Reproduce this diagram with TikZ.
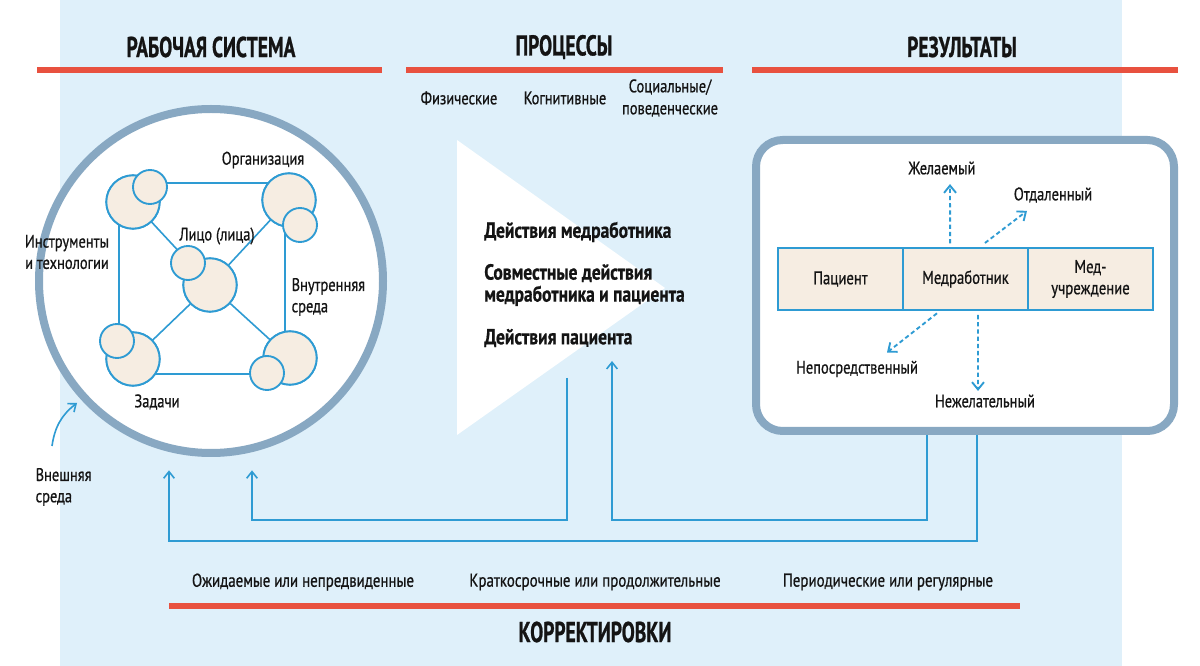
\documentclass[tikz,border=0pt]{standalone}
\usepackage{fontspec}
\setmainfont{PT Sans}[FakeStretch=0.8, FakeBold=0.7]
\newfontfamily\headfont{PT Sans}[FakeStretch=0.68, FakeBold=0.8]
\usetikzlibrary{arrows.meta, positioning, calc}
\definecolor{bgblue}{HTML}{DFF0FA}
\definecolor{ringgray}{HTML}{88A8C2}
\definecolor{lineblue}{HTML}{2E9BD3}
\definecolor{beige}{HTML}{F6EDE2}
\definecolor{redbar}{HTML}{E8513F}
\definecolor{ink}{HTML}{141414}

\begin{document}
\begin{tikzpicture}[x=0.75pt, y=-0.75pt, >={Straight Barb[length=5pt, width=8pt]},
  head/.style={font=\headfont\fontsize{21.5}{21.5}\selectfont\bfseries, text=ink},
  lbl/.style={font=\fontsize{13.6}{16}\selectfont, text=ink, align=center, inner sep=1pt},
  act/.style={font=\fontsize{16.4}{16.5}\selectfont\bfseries, text=ink, align=left, anchor=west, inner sep=0pt},
  bar/.style={draw=redbar, line width=4.5pt},
  link/.style={draw=lineblue, line width=1.2pt},
  dasharrow/.style={draw=lineblue, line width=1.4pt, dash pattern=on 3.2pt off 2.2pt,
                    -{Straight Barb[length=5.5pt, width=9pt]}},
  big/.style={circle, draw=lineblue, fill=beige, line width=1.4pt, minimum size=40pt, inner sep=0pt},
  small/.style={circle, draw=lineblue, fill=beige, line width=1.4pt, minimum size=25.5pt, inner sep=0pt},
  cell/.style={draw=lineblue, fill=beige, line width=1.4pt, minimum width=93.75pt, minimum height=46.5pt,
               outer sep=0pt, inner sep=1pt, align=center, font=\fontsize{13.8}{16}\selectfont, text=ink}]
  \useasboundingbox (0,0) rectangle (1200,666);
  \fill[white] (0,0) rectangle (1200,666);
  \fill[bgblue] (60,0) rectangle (1122,666);

  % headings
  \draw[bar] (37,70) -- (382,70);
  \draw[bar] (406,70) -- (723,70);
  \draw[bar] (752,70) -- (1178,70);
  \draw[bar] (169,606) -- (1020,606);
  \node[head] (hsys) at (211,47) {РАБОЧАЯ СИСТЕМА};
  \node[head] (hproc) at (564,47) {ПРОЦЕССЫ};
  \node[head] (hres) at (962,47) {РЕЗУЛЬТАТЫ};
  \node[head] (hcor) at (595,632) {КОРРЕКТИРОВКИ};
  \node[lbl] (phys) at (459,98) {Физические};
  \node[lbl] (cogn) at (565,98) {Когнитивные};
  \node[lbl, font=\fontsize{13.6}{16.5}\selectfont] (soc) at (670,98) {Социальные/\\поведенческие};

  % work system
  \node[circle, draw=ringgray, line width=6pt, fill=white, minimum size=258pt] (sys) at (211,281) {};
  \draw[link] (119,183) rectangle (285,374);
  \node[big] (tl) at (133,202) {};
  \node[big] (tr) at (289,200) {};
  \node[big] (bl) at (133,359) {};
  \node[big] (br) at (290,358) {};
  \node[big] (ctr) at (210,285) {};
  \foreach \c in {tl, tr, bl, br}
    \draw[link] (\c.center) -- (ctr);
  \foreach \c in {tl, tr, bl, br, ctr}
    \node[big] at (\c) {};
  \node[small] (tls) at (150,187) {};
  \node[small] (trs) at (300,225) {};
  \node[small] (bls) at (117,341) {};
  \node[small] (brs) at (267,373) {};
  \node[small] (ctrs) at (188,263) {};
  \node[lbl] (org) at (263,160) {Организация};
  \node[lbl] (tools) at (67,252) {Инструменты\\и технологии};
  \node[lbl] (pers) at (217,236) {Лицо (лица)};
  \node[lbl, align=left, anchor=west] (inner) at (290,297) {Внутренняя\\среда};
  \node[lbl] (tasks) at (157,402) {Задачи};
  \node[lbl, align=left, anchor=west] (outer) at (34,487) {Внешняя\\среда};
  \coordinate (envtail) at (52,446);
  \draw[link, ->] (envtail) to[bend left=22] (77,403);

  % processes
  \fill[white] (457,140) -- (665,288) -- (457,435) -- cycle;
  \node[act] (act1) at (484,232) {Действия медработника};
  \node[act, font=\fontsize{16.4}{16.5}\selectfont\bfseries] (act2) at (484,285) {Совместные действия\\медработника и пациента};
  \node[act] (act3) at (484,338) {Действия пациента};

  % outcomes
  \node[draw=ringgray, line width=6pt, fill=white, rounded corners=20pt,
        minimum width=313.5pt, minimum height=218.25pt] (res) at (965,285.5) {};
  \node[cell] (pat) at (840.5,279) {Пациент};
  \node[cell, right=0pt of pat] (med) {Медработник};
  \node[cell, right=0pt of med] (inst) {Мед-\\учреждение};
  \node[lbl] (want) at (942,168) {Желаемый};
  \node[lbl] (far) at (1053,195) {Отдаленный};
  \node[lbl] (near) at (857,369) {Непосредственный};
  \node[lbl] (unwant) at (985,401) {Нежелательный};
  \draw[dasharrow] ([xshift=-11.5pt, yshift=3.5pt]med.north) -- ([xshift=6pt, yshift=-6pt]want.south);
  \draw[dasharrow] ([xshift=14.6pt, yshift=3.75pt]med.north) -- ([xshift=-19.5pt, yshift=-5pt]far.south);
  \draw[dasharrow] ([xshift=-21.4pt, yshift=-2.5pt]med.south) -- ([xshift=22.5pt, yshift=5pt]near.north);
  \draw[dasharrow] ([xshift=9.4pt, yshift=-3.75pt]med.south) -- ([xshift=-5.25pt, yshift=1.5pt]unwant.north);

  % adjustments
  \coordinate (proc0) at (567,378);
  \coordinate (proc1) at (612,361);
  \draw[link, ->] ([xshift=9pt]res.south) -- ++(0,106) -| ([xshift=-31.5pt, yshift=-10pt]sys.south);
  \draw[link, ->] ([xshift=-28.5pt]res.south) -- ++(0,85) -| (proc1);
  \draw[link, ->] (proc0) -- ++(0,142) -| ([xshift=30.75pt, yshift=-10pt]sys.south);
  \node[lbl, font=\fontsize{14}{15}\selectfont] (exp) at (303,582) {Ожидаемые или непредвиденные};
  \node[lbl, font=\fontsize{14}{15}\selectfont] (dur) at (595,582) {Краткосрочные или продолжительные};
  \node[lbl, font=\fontsize{14}{15}\selectfont] (per) at (888,582) {Периодические или регулярные};
\end{tikzpicture}
\end{document}
